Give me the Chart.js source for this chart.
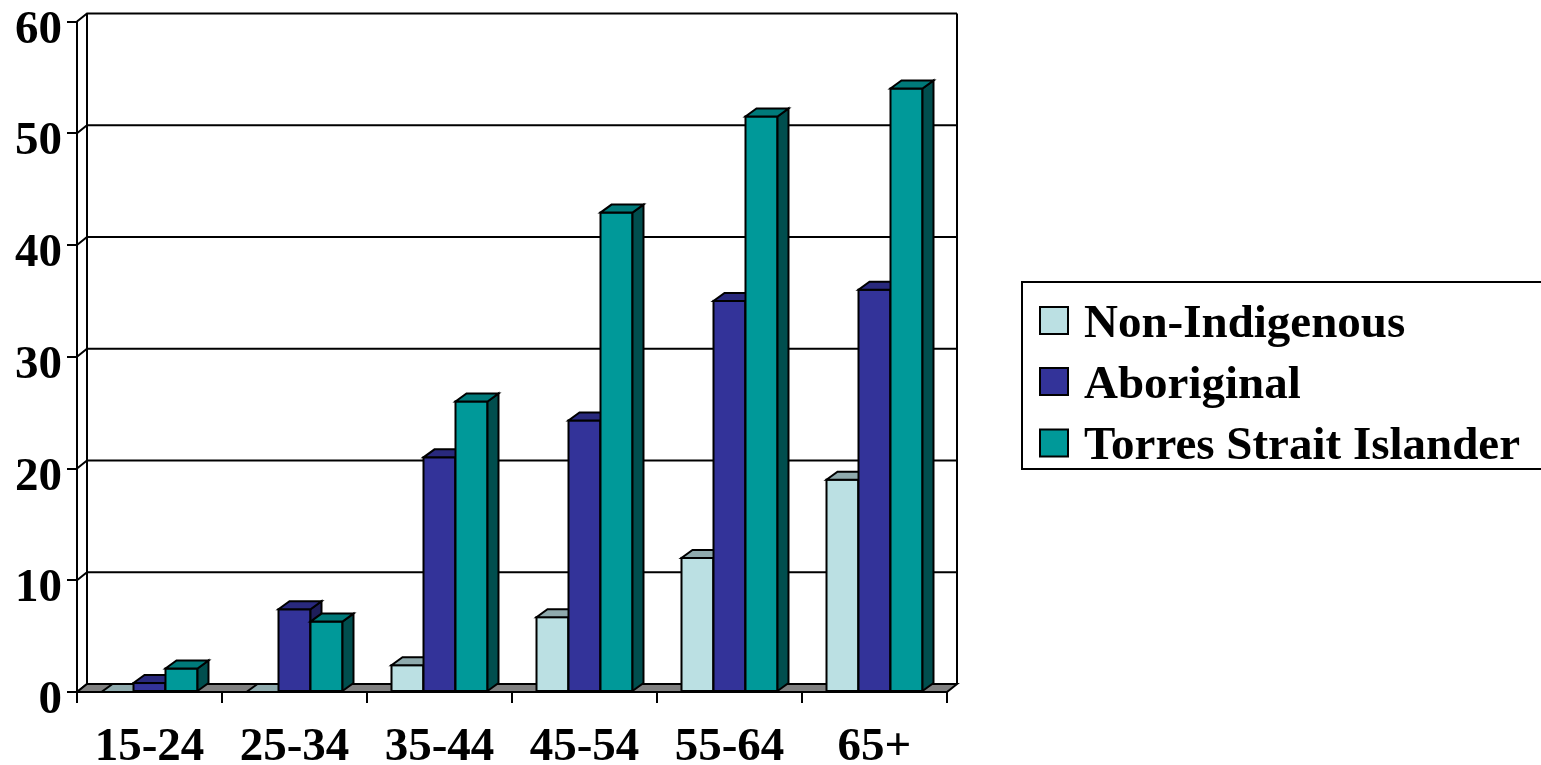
<!DOCTYPE html>
<html>
<head>
<meta charset="utf-8">
<style>
  html, body { margin: 0; padding: 0; background: #ffffff; }
  #wrap { width: 1541px; height: 765px; position: relative; overflow: hidden; }
  canvas { display: block; }
</style>
<script src="https://cdn.jsdelivr.net/npm/chart.js@4/dist/chart.umd.min.js"></script>
</head>
<body>
<div id="wrap"><canvas id="c" width="1541" height="765"></canvas></div>
<script>
// Age groups along the category axis
const ageGroups = ['15-24', '25-34', '35-44', '45-54', '55-64', '65+'];

// Prevalence (%) by group
const nonIndigenous = [0, 0, 2.4, 6.7, 12, 19];
const aboriginal = [0.8, 7.4, 21, 24.3, 35, 36];
const torresStrait = [2.1, 6.3, 26, 42.9, 51.5, 54];

const seriesNames = ['Non-Indigenous', 'Aboriginal', 'Torres Strait Islander'];

// Value axis range
const yMin = 0;
const yMax = 60;
const yStep = 10;

// Face shades for each series: front, top, side
const shades = [
  { front: '#BBE0E3', top: '#8FAAAD', side: '#6E8C8F' },
  { front: '#333399', top: '#29297D', side: '#1E1E5A' },
  { front: '#009999', top: '#007A7A', side: '#004E4E' }
];

const FONT = '"Liberation Serif", "Times New Roman", serif';
const LINE = 2;

// Depth offsets for the pseudo-3D walls and columns
const WALL_DX = 10, WALL_DY = -8;
const BAR_DX = 11, BAR_DY = -8;

function poly(ctx, pts, fill) {
  ctx.beginPath();
  ctx.moveTo(pts[0][0], pts[0][1]);
  for (let i = 1; i < pts.length; i++) ctx.lineTo(pts[i][0], pts[i][1]);
  ctx.closePath();
  if (fill) { ctx.fillStyle = fill; ctx.fill(); }
  ctx.stroke();
}

const box3d = {
  id: 'box3d',
  beforeDatasetsDraw(chart) {
    const ctx = chart.ctx;
    const area = chart.chartArea;
    const ys = chart.scales.y;
    ctx.save();
    ctx.strokeStyle = '#000';
    ctx.lineWidth = LINE;
    ctx.lineJoin = 'miter';

    // back wall gridlines and their diagonals on the side wall
    const bx0 = area.left + WALL_DX, bx1 = area.right + WALL_DX;
    ys.ticks.forEach(t => {
      const y = ys.getPixelForValue(t.value);
      ctx.beginPath();
      ctx.moveTo(area.left, y);
      ctx.lineTo(bx0, y + WALL_DY);
      ctx.lineTo(bx1, y + WALL_DY);
      ctx.stroke();
    });
    const yTop = ys.getPixelForValue(yMax) + WALL_DY;
    const yBot = ys.getPixelForValue(yMin) + WALL_DY;
    ctx.beginPath();
    ctx.moveTo(bx0, yTop); ctx.lineTo(bx0, yBot);
    ctx.moveTo(bx1, yTop); ctx.lineTo(bx1, yBot);
    ctx.stroke();

    // floor
    const fy = ys.getPixelForValue(yMin);
    poly(ctx, [[area.left, fy], [area.right, fy], [area.right + WALL_DX, fy + WALL_DY], [area.left + WALL_DX, fy + WALL_DY]], '#808080');

    // columns, drawn category by category, left to right
    const metas = chart.data.datasets.map((d, i) => chart.getDatasetMeta(i));
    const n = chart.data.labels.length;
    for (let k = 0; k < n; k++) {
      metas.forEach((meta, si) => {
        const el = meta.data[k];
        const x0 = el.x - el.width / 2, x1 = el.x + el.width / 2;
        const top = el.y, base = el.base;
        const sh = shades[si];
        if (base - top > 0.5) {
          // front
          ctx.fillStyle = sh.front;
          ctx.fillRect(x0, top, x1 - x0, base - top);
          ctx.strokeRect(x0, top, x1 - x0, base - top);
          // side
          poly(ctx, [[x1, base], [x1 + BAR_DX, base + BAR_DY], [x1 + BAR_DX, top + BAR_DY], [x1, top]], sh.side);
        }
        // top
        poly(ctx, [[x0, top], [x1, top], [x1 + BAR_DX, top + BAR_DY], [x0 + BAR_DX, top + BAR_DY]], sh.top);
      });
    }
    ctx.restore();
    return false;
  },
  afterDraw(chart) {
    // boxed legend at the right
    const ctx = chart.ctx;
    ctx.save();
    ctx.strokeStyle = '#000';
    ctx.lineWidth = LINE;
    ctx.fillStyle = '#fff';
    ctx.fillRect(1022, 282, 530, 187);
    ctx.strokeRect(1022, 282, 530, 187);
    ctx.font = 'bold 47px ' + FONT;
    ctx.textBaseline = 'alphabetic';
    ctx.textAlign = 'left';
    const rows = [320.5, 381.5, 443];
    chart.data.datasets.forEach((ds, i) => {
      const cy = rows[i];
      ctx.fillStyle = ds.backgroundColor;
      ctx.fillRect(1040, cy - 13.5, 28, 27);
      ctx.strokeRect(1040, cy - 13.5, 28, 27);
      ctx.fillStyle = '#000';
      ctx.fillText(ds.label, 1084, cy + 16);
    });
    ctx.restore();
  }
};

const chart = new Chart(document.getElementById('c'), {
  type: 'bar',
  data: {
    labels: ageGroups,
    datasets: [
      { label: seriesNames[0], data: nonIndigenous, backgroundColor: shades[0].front },
      { label: seriesNames[1], data: aboriginal, backgroundColor: shades[1].front },
      { label: seriesNames[2], data: torresStrait, backgroundColor: shades[2].front }
    ]
  },
  options: {
    responsive: false,
    devicePixelRatio: 1,
    animation: false,
    events: [],
    layout: { padding: { left: 0, top: 21.5, right: 594, bottom: 0 } },
    datasets: { bar: { categoryPercentage: 0.662, barPercentage: 1.0 } },
    plugins: { legend: { display: false }, tooltip: { enabled: false } },
    scales: {
      x: {
        offset: true,
        grid: { offset: true, drawOnChartArea: false, drawTicks: true, tickLength: 11, color: '#000', lineWidth: LINE },
        border: { display: true, color: '#000', width: LINE },
        ticks: { color: '#000', padding: 17, font: { family: FONT, size: 47, weight: 'bold' }, maxRotation: 0 },
        afterFit(s) { s.height = 73; s.paddingLeft = 0; s.paddingRight = 0; }
      },
      y: {
        min: yMin, max: yMax,
        grid: { drawOnChartArea: false, drawTicks: true, tickLength: 10, color: '#000', lineWidth: LINE },
        border: { display: true, color: '#000', width: LINE },
        ticks: { stepSize: yStep, color: '#000', padding: 5, labelOffset: 9, font: { family: FONT, size: 47, weight: 'bold' } },
        afterFit(s) { s.width = 77; s.paddingTop = 0; s.paddingBottom = 0; }
      }
    }
  },
  plugins: [box3d]
});
</script>
</body>
</html>
